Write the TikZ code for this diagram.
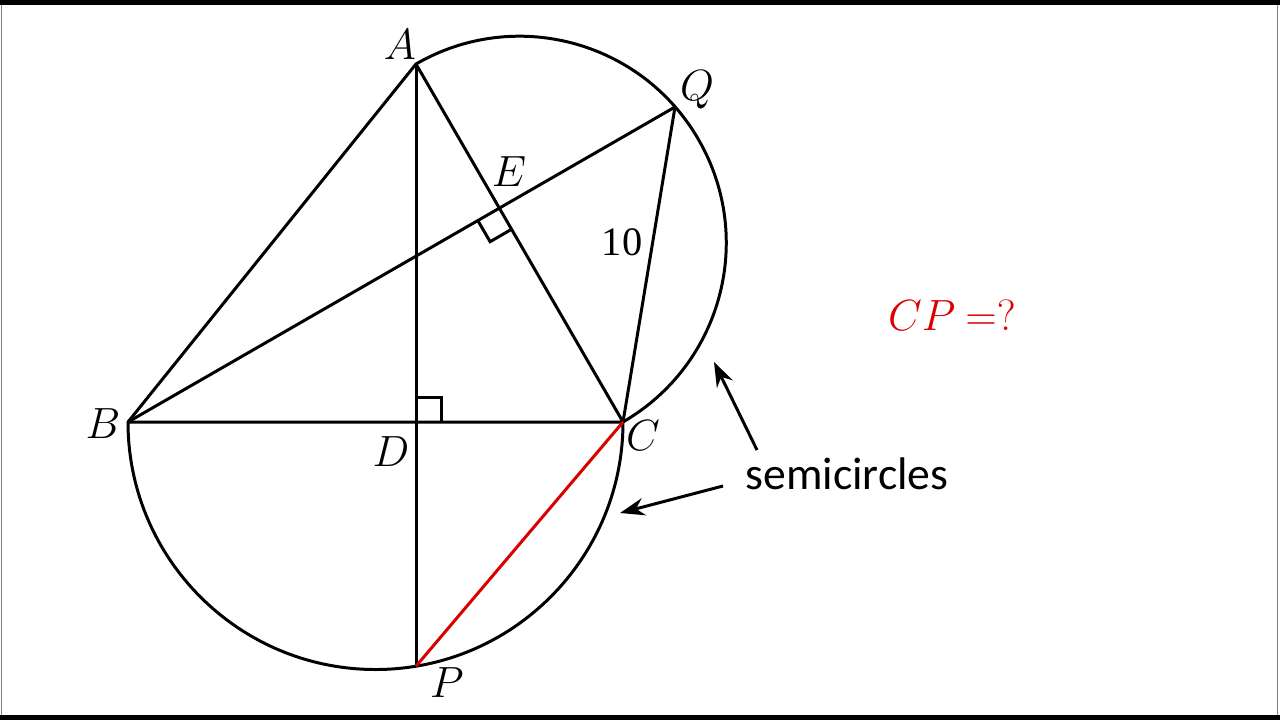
\documentclass[tikz,border=0pt]{standalone}
\usepackage{fontspec}
\setmainfont{Carlito}
\newfontfamily\tenfont{Liberation Serif}
\usetikzlibrary{arrows.meta,calc}
\begin{document}
\begin{tikzpicture}[x={(0.02cm,0)},y={(0,-0.02cm)},
  seg/.style={line width=1.7pt,line join=round},
  redseg/.style={line width=1.7pt,red!85!black},
  lbl/.style={font=\fontsize{23}{23}\selectfont},
  pointer/.style={line width=1.7pt,-{Stealth[length=14pt,width=10pt]}}]
\useasboundingbox (0,0) rectangle (1280,720);
\fill[white] (0,0) rectangle (1280,720);
% frame
\fill[black] (0,0) rectangle (1280,5);
\fill[black] (0,715) rectangle (1280,720);
\draw[gray,line width=0.8pt] (1.5,5) -- (1.5,715);
\draw[gray,line width=0.8pt] (1277.5,5) -- (1277.5,715);
% points
\coordinate (A) at (416,64);
\coordinate (B) at (128,422);
\coordinate (C) at (623,422);
\coordinate (D) at (416,422);
\coordinate (E) at (499.2,207.6);
\coordinate (Q) at (675,107);
\coordinate (P) at (416,666.2);
% semicircles
\draw[seg] (B) arc[start angle=180,end angle=0,radius=247.5];
\draw[seg] (A) arc[start angle=-120.04,end angle=59.96,radius=206.75];
% lines
\draw[seg] (B) -- (A) -- (C) -- cycle;
\draw[seg] (A) -- (P);
\draw[seg] (B) -- (Q) -- (C);
\draw[redseg] (C) -- (P);
% right angle marks
\draw[line width=1.7pt] (416,397) -- (441,397) -- (441,422);
\draw[line width=1.7pt] ($(E)+(-21.6,12.5)$) -- ++(12.5,21.6) -- ++(21.6,-12.5);
% labels
\node[lbl] (lA) at (400,45) {$A$};
\node[lbl] (lQ) at (697,90) {$Q$};
\node[lbl] (lE) at (509,172) {$E$};
\node[lbl] (lB) at (103,424) {$B$};
\node[lbl] (lD) at (391,452) {$D$};
\node[lbl] (lC) at (643,436) {$C$};
\node[lbl] (lP) at (447,683) {$P$};
\node[font=\fontsize{23}{23}\selectfont\tenfont] (l10) at (622,242) {10};
\node[font=\fontsize{25}{25}\selectfont,text=red!85!black] (q) at (952,315) {$CP\ {=}?$};
\node[font=\fontsize{26}{26}\selectfont] (sc) at (847,474) {semicircles};
\coordinate (t1) at (714,362);
\coordinate (t2) at (620,513);
\draw[pointer] (757,450) -- (t1);
\draw[pointer] (723,486) -- (t2);
\end{tikzpicture}
\end{document}
